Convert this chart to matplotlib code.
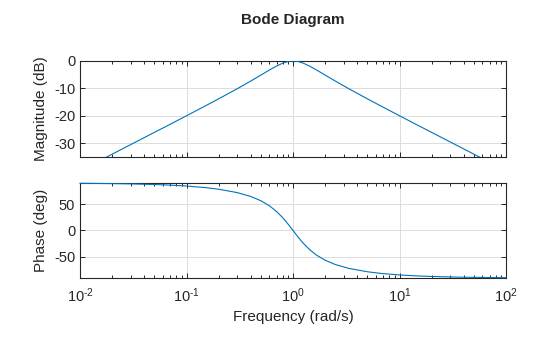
import matplotlib.pyplot as plt
from matplotlib.ticker import LogLocator, NullFormatter, FuncFormatter
import numpy as np

plt.rcParams['font.family'] = ['Liberation Sans', 'DejaVu Sans']
plt.rcParams['mathtext.fontset'] = 'custom'
plt.rcParams['mathtext.rm'] = 'Liberation Sans'
plt.rcParams['mathtext.it'] = 'Liberation Sans:italic'
plt.rcParams['mathtext.bf'] = 'Liberation Sans:bold'
plt.rcParams['axes.unicode_minus'] = False

# frequency samples (rad/s)
freq = [0.01, 0.02, 0.03, 0.05, 0.07, 0.1, 0.15, 0.2, 0.3, 0.4, 0.5, 0.6,
        0.7, 0.8, 0.85, 0.9, 0.95, 1.0, 1.053, 1.111, 1.176, 1.25, 1.429,
        1.667, 2.0, 2.5, 3.333, 5.0, 6.667, 10.0, 14.29, 20.0, 33.33, 50.0, 100.0]

# magnitude (dB)
mag = [-40.0, -33.98, -30.45, -26.01, -23.1, -19.96, -16.38, -13.81, -10.09,
       -7.33, -5.12, -3.30, -1.85, -0.80, -0.44, -0.19, -0.045, 0.0, -0.045,
       -0.19, -0.44, -0.80, -1.85, -3.30, -5.12, -7.33, -10.09, -13.81, -16.38,
       -19.96, -23.1, -26.01, -30.45, -33.98, -40.0]

# phase (deg)
phase = [89.43, 88.85, 88.28, 87.13, 85.98, 84.23, 81.28, 78.23, 71.75, 64.54,
         56.31, 46.85, 36.08, 24.23, 18.08, 11.92, 5.86, 0.0, -5.86, -11.92,
         -18.08, -24.23, -36.08, -46.85, -56.31, -64.54, -71.75, -78.23,
         -81.28, -84.23, -85.98, -87.13, -88.28, -88.85, -89.43]

line_color = '#0072BD'
text_color = '#262626'


def pow10(x, pos):
    e = int(round(np.log10(x)))
    if e < 0:
        return r'$10^{\text{-}%d}$' % (-e)
    return r'$10^{%d}$' % e


fig = plt.figure(figsize=(5.6, 3.37), dpi=100)
ax1 = fig.add_axes([0.1429, 0.5341, 0.7607, 0.2849])
ax2 = fig.add_axes([0.1429, 0.1751, 0.7607, 0.2819])

ax1.semilogx(freq, mag, color=line_color, lw=0.8, zorder=3)
ax2.semilogx(freq, phase, color=line_color, lw=0.8, zorder=3, clip_on=False)

for ax in (ax1, ax2):
    ax.set_xlim(0.01, 100)
    ax.xaxis.set_major_locator(LogLocator(base=10, numticks=10))
    ax.xaxis.set_minor_locator(LogLocator(base=10, subs=range(2, 10), numticks=10))
    ax.xaxis.set_major_formatter(FuncFormatter(pow10))
    ax.xaxis.set_minor_formatter(NullFormatter())
    ax.grid(True, which='major', color='#dcdcdc', lw=0.7)
    ax.tick_params(which='both', direction='in', top=True, right=True,
                   colors=text_color, labelsize=10.5, length=3.5, width=0.7)
    ax.tick_params(which='minor', length=2)
    for s in ax.spines.values():
        s.set_color(text_color)
        s.set_linewidth(0.8)

ax1.set_ylim(-35, 0)
ax1.set_yticks([0, -10, -20, -30])
ax1.tick_params(labelbottom=False)
ax1.set_ylabel('Magnitude (dB)', fontsize=11, color=text_color)

ax2.set_ylim(-90, 90)
ax2.set_yticks([-50, 0, 50])
ax2.set_ylabel('Phase (deg)', fontsize=11, color=text_color)
ax2.set_xlabel('Frequency (rad/s)', fontsize=11, color=text_color)
ax2.tick_params(axis='x', pad=6)

fig.text(0.523, 0.94, 'Bode Diagram', ha='center', va='center',
         fontsize=11, fontweight='bold', color=text_color)

fig.savefig('out.png', dpi=100)
